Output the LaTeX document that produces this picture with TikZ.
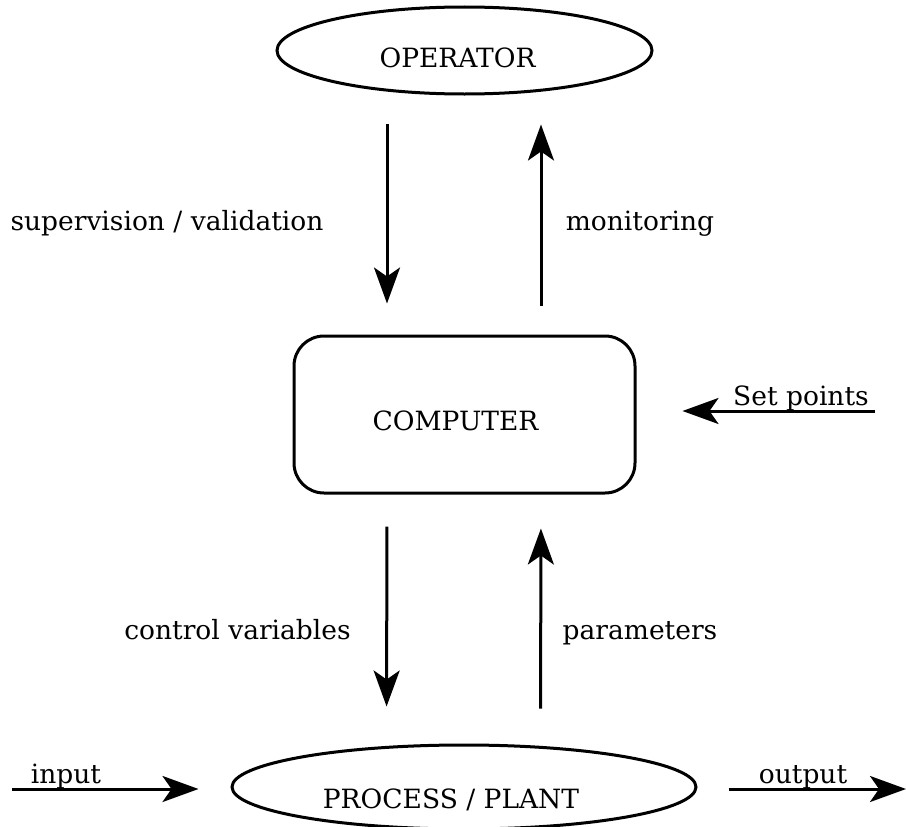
\documentclass[tikz,border=0pt]{standalone}
\usepackage{fontspec}
\setmainfont{DejaVu Serif}
\usetikzlibrary{shapes.geometric,arrows.meta}

\tikzset{
  x=1bp, y=-1bp,
  every node/.style={font=\fontsize{26.5bp}{30bp}\selectfont, inner sep=0pt},
  shapeline/.style={draw, line width=3bp},
  oval/.style={shapeline, ellipse},
  procbox/.style={shapeline, rectangle, rounded corners=30bp},
  arr/.style={line width=3bp, -{Stealth[length=36bp, width=26bp, inset=9bp]}},
}

\begin{document}
\begin{tikzpicture}
  \useasboundingbox (0,0) rectangle (906,827);

  % main blocks
  \node[oval, minimum width=375bp, minimum height=87bp] (op) at (464.5,50.5) {};
  \node[procbox, minimum width=341bp, minimum height=157bp] (comp) at (464.5,414.5) {};
  \node[oval, minimum width=464bp, minimum height=84bp] (plant) at (464,787) {};

  \node[anchor=base] (opText) at (457.5,67) {OPERATOR};
  \node[anchor=base] (compText) at (455.5,430) {COMPUTER};
  \node[anchor=base] (plantText) at (451,808) {PROCESS / PLANT};

  % operator <-> computer
  \draw[arr, shorten <=28bp, shorten >=31bp] ([xshift=-77.5bp]op.south) -- ([xshift=-77.5bp]comp.north);
  \draw[arr, shorten <=29bp, shorten >=29bp] ([xshift=76.5bp]comp.north) -- ([xshift=76.5bp]op.south);

  % computer <-> plant
  \draw[arr, shorten <=32bp, shorten >=37bp] ([xshift=-77.5bp]comp.south) -- ([xshift=-77.5bp]plant.north);
  \draw[arr, shorten <=35bp, shorten >=34bp] ([xshift=76.5bp]plant.north) -- ([xshift=76.5bp]comp.south);

  \node[anchor=base] (supLbl) at (167,230) {supervision / validation};
  \node[anchor=base] (monLbl) at (640,230) {monitoring};
  \node[anchor=base] (ctlLbl) at (237.5,639) {control variables};
  \node[anchor=base] (parLbl) at (640,639) {parameters};

  % set points into the computer
  \coordinate (spStart) at (875,411);
  \draw[arr, shorten >=46bp] (spStart) -- (spStart -| comp.east);
  \node[anchor=base] (spLbl) at (801,405) {Set points};

  % plant input and output
  \coordinate (inStart) at (12,789);
  \draw[arr, shorten >=32bp] (inStart) -- (inStart -| plant.west);
  \node[anchor=base] (inLbl) at (66,783) {input};

  \coordinate (outEnd) at (906,789);
  \draw[arr, shorten <=31bp] (outEnd -| plant.east) -- (outEnd);
  \node[anchor=base] (outLbl) at (803,783) {output};
\end{tikzpicture}
\end{document}
